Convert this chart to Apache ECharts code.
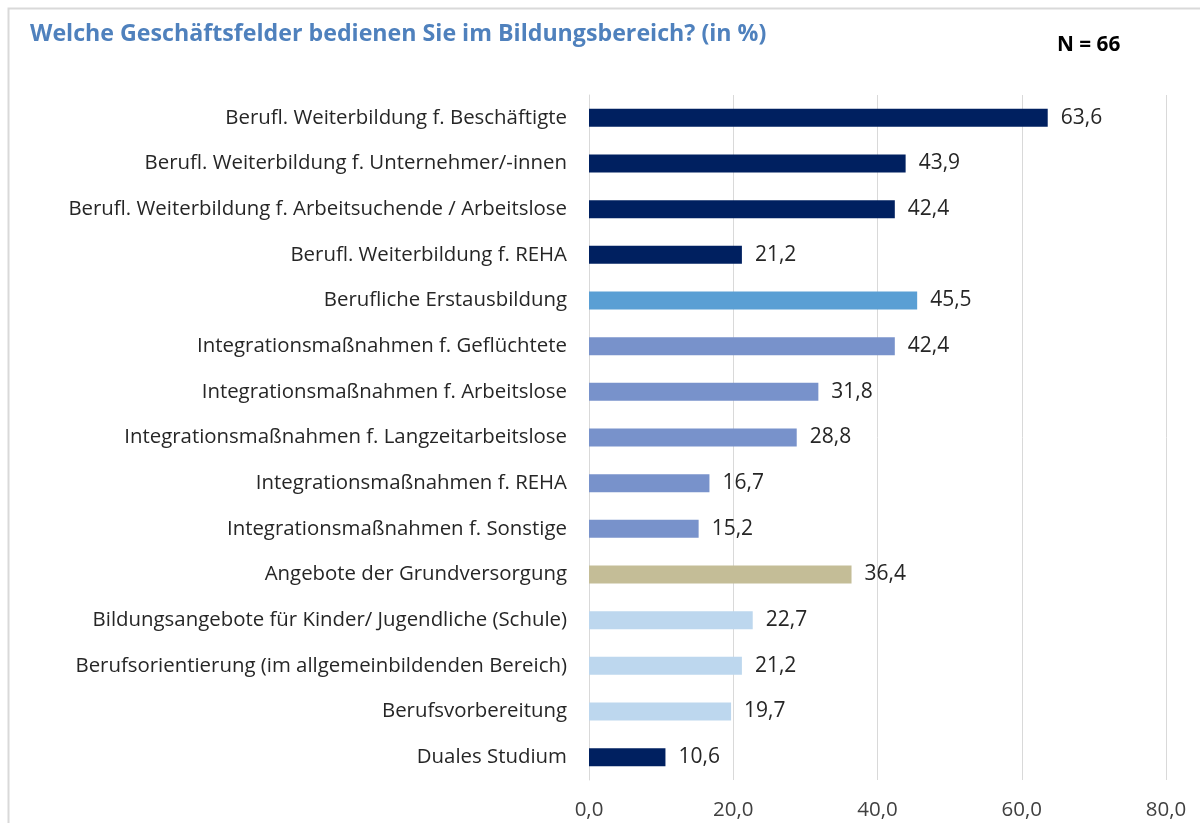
<!DOCTYPE html>
<html><head><meta charset="utf-8">
<script src="https://cdn.jsdelivr.net/npm/echarts@6/dist/echarts.min.js"></script>
<style>html,body{margin:0;padding:0;background:#fff}#c{width:1200px;height:823px}</style>
</head><body><div id="c"></div>
<script>
const categories = [
  "Berufl. Weiterbildung f. Beschäftigte",
  "Berufl. Weiterbildung f. Unternehmer/-innen",
  "Berufl. Weiterbildung f. Arbeitsuchende / Arbeitslose",
  "Berufl. Weiterbildung f. REHA",
  "Berufliche Erstausbildung",
  "Integrationsmaßnahmen f. Geflüchtete",
  "Integrationsmaßnahmen f. Arbeitslose",
  "Integrationsmaßnahmen f. Langzeitarbeitslose",
  "Integrationsmaßnahmen f. REHA",
  "Integrationsmaßnahmen f. Sonstige",
  "Angebote der Grundversorgung",
  "Bildungsangebote für Kinder/ Jugendliche (Schule)",
  "Berufsorientierung (im allgemeinbildenden Bereich)",
  "Berufsvorbereitung",
  "Duales Studium"
];
const values = [63.6, 43.9, 42.4, 21.2, 45.5, 42.4, 31.8, 28.8, 16.7, 15.2, 36.4, 22.7, 21.2, 19.7, 10.6];
const barColors = ["#002060","#002060","#002060","#002060","#5a9fd4","#7892cb","#7892cb","#7892cb","#7892cb","#7892cb","#c4bd97","#bdd7ee","#bdd7ee","#bdd7ee","#002060"];
const xTicks = [0, 20, 40, 60, 80];

const chart = echarts.init(document.getElementById('c'), null, {renderer: 'canvas'});
const font = "'Open Sans', sans-serif";
chart.setOption({
  animation: false,
  backgroundColor: '#ffffff',
  graphic: [
    {type: 'rect', shape: {x: 8.5, y: 8.5, width: 1300, height: 900}, style: {fill: 'none', stroke: '#d9d9d9', lineWidth: 2}, z: 0}
  ],
  title: [
    {text: 'Welche Geschäftsfelder bedienen Sie im Bildungsbereich? (in %)', left: 25, top: 18,
     textStyle: {color: '#4f81bd', fontSize: 23.2, fontWeight: 'bold', fontFamily: font}},
    {text: 'N = 66', left: 1052, top: 30, textStyle: {color: '#000', fontSize: 20.8, fontWeight: 'bold', fontFamily: font}}
  ],
  grid: {left: 589, right: 34, top: 95, bottom: 43, containLabel: false},
  xAxis: {
    type: 'value', min: 0, max: 80, interval: 20,
    axisLine: {show: false}, axisTick: {show: false},
    splitLine: {show: true, lineStyle: {color: '#d9d9d9', width: 1}},
    axisLabel: {margin: 20, color: '#404040', fontSize: 20.5, fontFamily: font,
      formatter: v => v.toFixed(1).replace('.', ',')}
  },
  yAxis: {
    type: 'category', inverse: true, data: categories,
    axisLine: {show: true, lineStyle: {color: '#d9d9d9'}}, axisTick: {show: false},
    axisLabel: {margin: 22, color: '#262626', fontSize: 20.4, fontFamily: font}
  },
  series: [{
    type: 'bar', barWidth: 18,
    data: values.map((v, i) => ({value: v, itemStyle: {color: barColors[i]}})),
    label: {show: true, position: 'right', distance: 13, color: '#262626', fontSize: 21, fontFamily: font,
      formatter: p => p.value.toFixed(1).replace('.', ',')}
  }]
});
</script></body></html>
